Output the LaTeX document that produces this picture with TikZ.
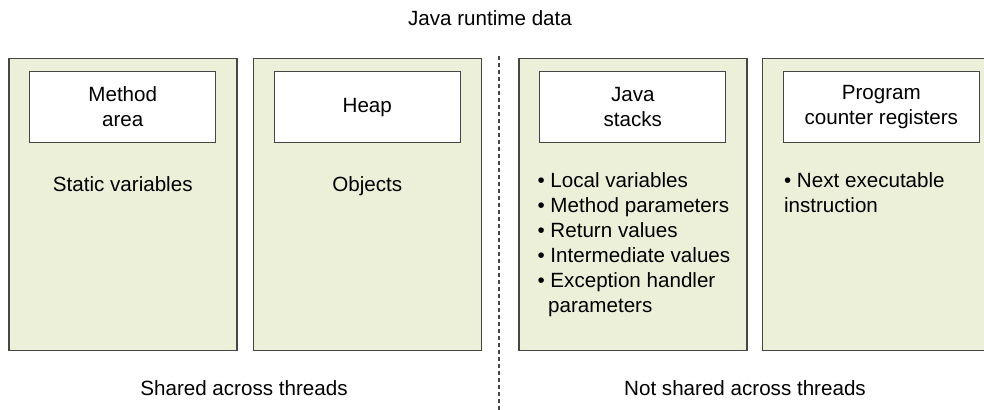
\documentclass[tikz,border=0pt]{standalone}
\usepackage{fontspec}
\setmainfont{Liberation Sans}
\usetikzlibrary{positioning}

\definecolor{panelfill}{RGB}{236,240,216}
\definecolor{edgegray}{RGB}{70,70,70}

\begin{document}
\begin{tikzpicture}[
          x=0.5pt, y=-0.5pt,
          font=\fontsize{10.3}{12.5}\selectfont,
          panel/.style={draw=edgegray, fill=panelfill, line width=0.75pt,
                        minimum width=114pt, minimum height=146pt,
                        inner sep=0pt},
          area/.style={draw=edgegray, fill=white, line width=0.6pt,
                       minimum width=93pt, minimum height=35.5pt,
                       inner sep=0pt, align=center},
          note/.style={inner sep=0pt, align=left},
          caption/.style={inner sep=0pt}
        ]
        \clip (0,0) rectangle (984,410);

        \node[caption] (title) at (490,18) {Java runtime data};

        % shared part
        \node[panel, anchor=north west] (p1) at (8,58) {};
        \node[panel, right=7.5pt of p1] (p2) {};
        \node[area, below=6.5pt of p1.north] (method) {Method\\area};
        \node[area, below=6.5pt of p2.north] (heap) {Heap};
        \node[note, below=16.3pt of method] (static) {Static variables};
        \node[note, below=16.3pt of heap] (objects) {Objects};

        % per-thread part
        \node[panel, right=18pt of p2] (p3) {};
        \node[panel, minimum width=119pt, right=7pt of p3] (p4) {};
        \node[area, below=6.5pt of p3.north] (stacks) {Java\\stacks};
        \node[area, minimum width=98pt, below=6.5pt of p4.north] (pcreg)
              {Program\\counter registers};
        \node[note, below right=14.5pt and -1pt of stacks.south west] (frame)
              {\textbullet\ Local variables\\
               \textbullet\ Method parameters\\
               \textbullet\ Return values\\
               \textbullet\ Intermediate values\\
               \textbullet\ Exception handler\\
               \phantom{\textbullet}\,parameters};
        \node[note, below right=14.5pt and 0.5pt of pcreg.south west] (next)
              {\textbullet\ Next executable\\instruction};

        % divider
        \coordinate (divtop) at (499,56);
        \coordinate (divbot) at (499,410);
        \draw[edgegray, line width=0.6pt, dash pattern=on 2pt off 1.5pt]
          (divtop) -- (divbot);

        \node[caption] (shared) at (244,388) {Shared across threads};
        \node[caption] (private) at (745,388) {Not shared across threads};
      \end{tikzpicture}
\end{document}
